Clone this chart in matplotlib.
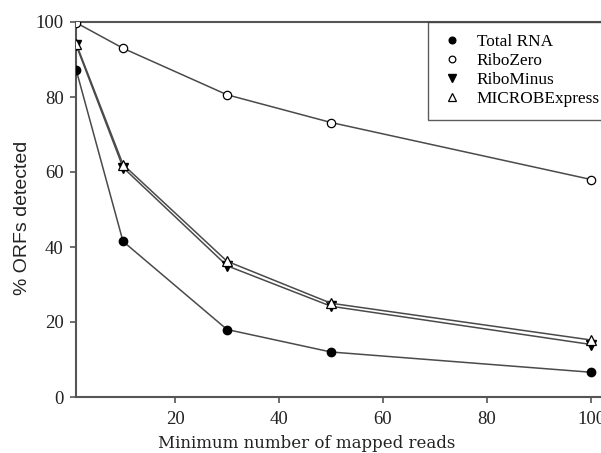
import matplotlib
matplotlib.use("Agg")
import matplotlib.pyplot as plt

min_reads = [1, 10, 30, 50, 100]
total_rna = [87.2, 41.5, 18.0, 12.0, 6.6]
ribozero = [99.8, 93.0, 80.6, 73.2, 58.0]
ribominus = [93.8, 61.2, 35.0, 24.2, 14.0]
microbexpress = [94.2, 62.0, 36.2, 25.0, 15.2]
series_names = ["Total RNA", "RiboZero", "RiboMinus", "MICROBExpress"]
x_ticks = [20, 40, 60, 80, 100]
y_ticks = [0, 20, 40, 60, 80, 100]

plt.rcParams['font.family'] = ['Liberation Serif', 'DejaVu Serif']

fig = plt.figure(figsize=(6.01, 4.53), dpi=100)
ax = fig.add_axes([76/601, 1-397/453, 1-76/601, (397-22)/453])

line_col = '#4a4a4a'
ms = 6.0
ax.plot(min_reads, total_rna, color=line_col, lw=1.1, marker='o', ms=ms,
        mfc='black', mec='black', label=series_names[0], zorder=3)
ax.plot(min_reads, ribozero, color=line_col, lw=1.1, marker='o', ms=ms,
        mfc='white', mec='black', mew=0.9, label=series_names[1], zorder=3)
ax.plot(min_reads, ribominus, color=line_col, lw=1.1, marker='v', ms=ms+0.8,
        mfc='black', mec='black', label=series_names[2], zorder=3)
ax.plot(min_reads, microbexpress, color=line_col, lw=1.1, marker='^', ms=ms+0.8,
        mfc='white', mec='black', mew=0.9, label=series_names[3], zorder=4)

ax.set_xlim(0.96, 101.92)
ax.set_ylim(0, 100)
ax.set_xticks(x_ticks)
ax.set_yticks(y_ticks)
for s in ['left', 'bottom', 'top']:
    ax.spines[s].set_color('#555555')
    ax.spines[s].set_linewidth(1.5)
ax.spines['right'].set_visible(False)
ax.tick_params(direction='out', length=4, width=1.2, color='#555555',
               labelsize=13.5, labelcolor='#222222', pad=5)
ax.tick_params(axis='x', pad=6)
ax.set_xlabel("Minimum number of mapped reads", fontsize=12, color='#222222',
              family=['DejaVu Serif'])
ax.xaxis.set_label_coords((307-76)/525, -(443-397)/375)
ax.xaxis.label.set_va('center')
ax.set_ylabel("% ORFs detected", fontsize=14, color='#222222',
              family=['Liberation Sans', 'DejaVu Sans'])
ax.yaxis.set_label_coords(-(76-23)/525, (397-218)/375)
ax.yaxis.label.set_va('center')

leg = ax.legend(loc='upper left', bbox_to_anchor=(428/601, 1-22/453),
                bbox_transform=fig.transFigure, frameon=True, fancybox=False,
                fontsize=12.4, handlelength=1.4, handletextpad=0.72, labelspacing=0.17,
                borderpad=0.72, borderaxespad=0, markerscale=0.8)
for h in leg.legend_handles:
    h.set_linestyle('None')
leg.get_frame().set_edgecolor('#333333')
leg.get_frame().set_linewidth(1.0)

fig.savefig("out.png", dpi=100)
